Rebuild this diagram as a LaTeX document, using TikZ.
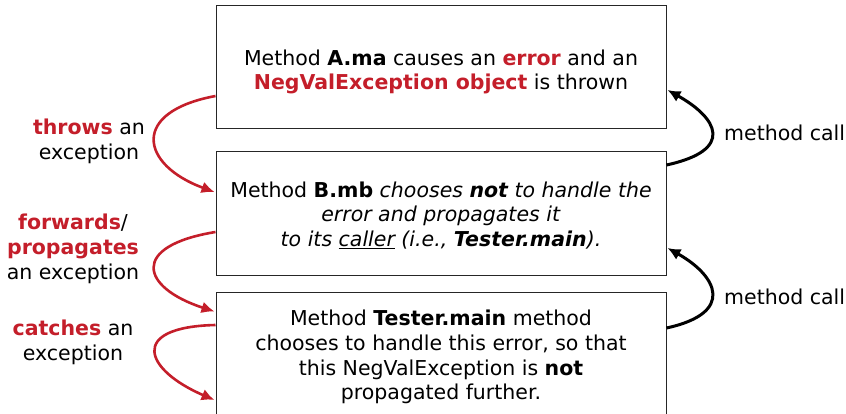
\documentclass[tikz,border=0pt]{standalone}
\usepackage{fontspec}
\setmainfont{DejaVu Sans}
\usetikzlibrary{arrows.meta}
\definecolor{exred}{HTML}{C41E2A}
\tikzset{
  box/.style={draw=black!85, line width=1pt, minimum width=450pt, align=center, inner sep=0pt,
    font=\fontsize{20.5}{24.8}\selectfont},
  lbl/.style={align=center, inner sep=0pt, font=\fontsize{20.5}{24.8}\selectfont},
  redarr/.style={draw=exred, line width=2.6pt, -{Latex[length=13pt,width=12pt]}},
  blkarr/.style={draw=black, line width=3pt, -{Latex[length=13pt,width=12pt]}},
}
\begin{document}
\begin{tikzpicture}[x=1pt,y=1pt]
\useasboundingbox (0,0) rectangle (846,-414);
\node[box, minimum height=123pt] (b1) at (441,-67.5) {};
\node[lbl] (b1t) at (441,-72)
  {Method \textbf{A.ma} causes an \textcolor{exred}{\textbf{error}} and an\\
   \textcolor{exred}{\textbf{NegValException object}} is thrown};
\node[box, minimum height=123pt] (b2) at (441,-213.5) {};
\node[lbl] (b2t) at (441,-215.5)
  {Method \textbf{B.mb} \textit{chooses \textbf{not} to handle the}\\
   \textit{error and propagates it}\\
   \textit{to its \underline{caller} (i.e., \textbf{Tester.main}).}};
\node[box, minimum height=126pt] (b3) at (441,-355) {};
\node[lbl] (b3t) at (441,-357)
  {Method \textbf{Tester.main} method\\
   chooses to handle this error, so that\\
   this NegValException is \textbf{not}\\
   propagated further.};
% labels
\node[lbl] (l1) at (89,-141) {\textcolor{exred}{\textbf{throws}} an\\exception};
\node[lbl] (l2) at (73,-249) {\textcolor{exred}{\textbf{forwards}}/\\\textcolor{exred}{\textbf{propagates}}\\an exception};
\node[lbl] (l3) at (73,-342) {\textcolor{exred}{\textbf{catches}} an\\exception};
\node[lbl, anchor=west] (m1) at (724,-133) {method call};
\node[lbl, anchor=west] (m2) at (724,-297) {method call};
% red arrows
\draw[redarr] ([yshift=-28.5pt]b1.west) .. controls +(-86,-16) and +(-74,27) .. ([xshift=-1pt,yshift=21.5pt]b2.west);
\draw[redarr] ([yshift=-18.5pt]b2.west) .. controls +(-86,-14) and +(-74,24) .. ([xshift=-1pt,yshift=43.5pt]b3.west);
\draw[redarr] ([yshift=30pt]b3.west) .. controls +(-88,-2) and +(-70,30) .. ([xshift=-1pt,yshift=-45pt]b3.west);
% black arrows
\draw[blkarr] ([yshift=48.5pt]b2.east) .. controls +(69,15) and +(50,-28) .. ([xshift=1pt,yshift=-22.5pt]b1.east);
\draw[blkarr] ([yshift=27pt]b3.east) .. controls +(69,15) and +(50,-28) .. ([xshift=1pt,yshift=-34.5pt]b2.east);
\end{tikzpicture}
\end{document}
